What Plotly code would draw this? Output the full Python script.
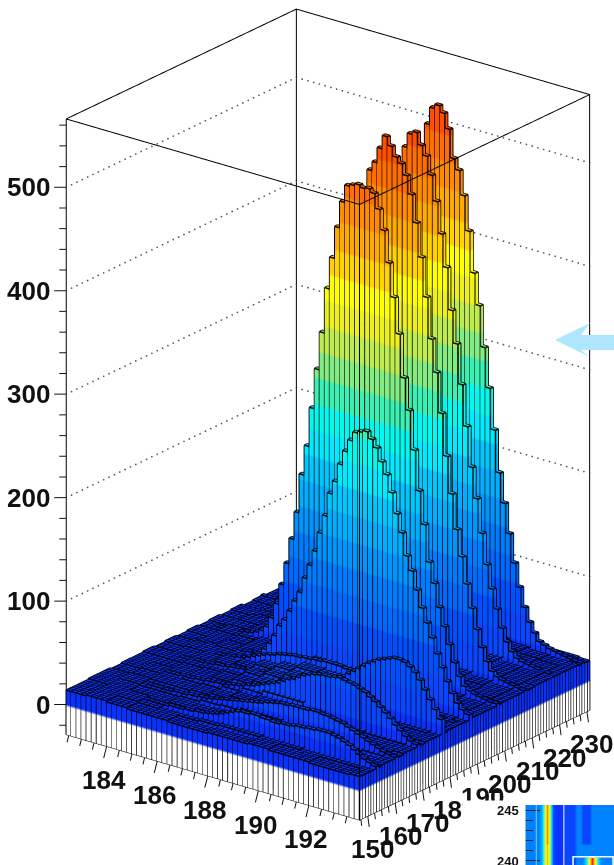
import numpy as np
import plotly.graph_objects as go

# ---- axes ----
x_lo, x_hi = 182.4, 194.0
y_lo, y_hi = 147.0, 231.0
z_lo, z_hi = -29.0, 566.0
n_cols, n_rows = 58, 84
z_major = [0, 100, 200, 300, 400, 500]
x_major = [184, 186, 188, 190, 192]
y_major = [150, 160, 170, 180, 190, 200, 210, 220, 230]

# ---- coarse background level: rows of 4 y-bins (front to back), cols of 4 x-bins ----
bg = [
 [14,15,14,13,13,12,12,13,13,14,13,13,12,12,13],
 [14,15,15,14,13,13,14,15,15,14,14,13,13,13,13],
 [15,15,14,14,15,15,16,18,18,16,15,14,14,13,14],
 [15,16,15,15,16,18,19,21,21,19,17,15,14,15,14],
 [14,15,16,16,17,19,22,24,25,22,19,16,15,15,15],
 [15,16,16,17,18,21,25,28,28,24,20,17,16,16,15],
 [15,15,16,17,19,23,27,31,31,26,21,18,17,16,16],
 [16,16,17,18,20,25,29,34,33,28,23,19,17,17,16],
 [15,16,17,19,22,27,31,36,35,30,25,20,18,17,17],
 [16,17,17,19,23,28,33,37,36,31,26,21,19,18,17],
 [15,16,18,20,24,29,34,38,37,33,27,22,20,18,18],
 [16,16,17,20,24,30,35,38,38,33,28,23,20,19,18],
 [15,17,18,20,25,30,35,39,38,34,28,24,21,19,18],
 [16,16,18,21,25,31,36,39,39,34,29,24,21,20,19],
 [15,17,18,21,25,31,36,40,39,34,29,25,22,20,19],
 [16,16,18,20,25,30,36,39,38,34,29,25,22,21,19],
 [14,15,17,20,24,30,35,38,38,33,29,25,22,21,20],
 [15,16,17,19,23,29,34,37,37,33,28,25,22,21,20],
 [14,15,16,18,22,27,32,35,35,31,27,24,22,21,20],
 [14,14,15,17,20,25,29,32,32,29,26,23,21,20,20],
 [13,14,15,16,18,22,26,28,28,26,24,22,20,20,19],
]

# ---- rows that stand out of the background: y-bin index and heights per x-bin ----
ridge_rows = [6, 13, 21, 30, 36, 40, 50, 60, 71, 81]
ridge_I = [14,14,14,14,14,14,14,14,14,14,15,15,15,15,15,15,15,16,16,16,17,17,18,18,19,20,21,23,25,27,29,30,30,31,31,30,30,29,29,30,30,31,32,32,33,33,34,34,34,33,32,30,28,25,22,19,17,15]
ridge_H = [14,14,14,15,15,15,15,15,15,16,16,16,16,16,17,17,17,18,18,19,19,20,21,22,23,24,25,26,27,28,29,30,32,33,34,35,35,36,36,36,36,37,37,36,36,35,34,33,31,29,27,25,23,21,19,17,16,15]
ridge_G = [15,15,15,15,16,16,16,16,17,17,17,18,18,18,19,19,20,20,21,21,22,23,24,25,27,28,30,32,34,36,38,41,44,46,49,52,54,56,57,58,58,59,60,59,58,57,55,53,50,47,43,39,35,30,26,22,19,17]
ridge_F = [15,15,16,16,16,16,17,17,17,18,18,19,19,20,20,21,22,22,23,24,25,25,26,27,27,28,28,29,29,30,30,31,32,33,34,36,38,41,44,48,52,56,60,64,67,70,72,74,76,76,75,72,68,62,54,46,38,30]
ridge_J = [15,15,15,16,16,16,16,17,17,17,18,18,19,20,21,22,24,26,28,30,32,33,35,36,37,38,38,39,39,40,40,41,41,41,41,40,40,39,38,37,36,35,34,32,30,29,27,26,24,23,22,21,20,20,19,18,18,17]
ridge_A = [15,15,15,16,16,16,17,17,17,18,18,18,19,20,21,22,24,28,35,44,55,62,72,83,93,108,122,137,156,174,197,210,228,242,254,263,265,267,261,254,242,231,215,196,179,158,145,128,112,99,86,72,60,48,38,30,25,22]
ridge_B = [15,15,16,16,16,17,17,18,19,20,22,25,30,40,55,75,97,122,149,187,216,254,293,330,374,405,436,462,479,481,483,481,482,479,465,446,416,384,350,309,279,242,204,173,138,119,97,80,64,48,36,28,25,23,22,21,20,20]
ridge_C = [15,15,16,16,16,17,17,18,19,20,22,24,28,36,48,66,90,118,150,185,225,265,310,355,395,430,460,480,489,504,517,509,500,495,485,468,442,410,373,334,303,265,225,190,157,132,107,85,66,50,38,30,26,24,23,22,21,20]
ridge_D = [16,16,16,17,17,18,18,19,20,21,22,23,25,30,40,55,75,100,130,165,200,240,285,330,370,410,445,470,490,504,507,496,487,470,446,416,385,345,314,276,237,199,170,138,109,87,69,52,40,32,27,25,24,23,22,21,21,20]
ridge_E = [16,16,16,16,17,17,18,18,19,20,21,22,26,33,45,62,85,115,150,185,225,270,315,360,400,440,470,498,515,519,513,499,472,462,439,406,367,337,298,260,221,181,153,125,98,76,58,45,36,29,27,25,24,23,22,21,20,20]
ridges = [ridge_I, ridge_H, ridge_G, ridge_F, ridge_J, ridge_A, ridge_B, ridge_C, ridge_D, ridge_E]

# ---- colour bands (26 counts each, from 0 upward) ----
band_step = 26
band_colors = ["#0a32ff","#0a46ff","#0050ff","#0069ff","#007dff","#0096ff","#00afff","#00c8ff",
               "#00ebff","#00faf0","#3cf0b4","#82eb82","#beeb50","#ebf01e","#ffff00","#ffd200",
               "#ffaa00","#ff8c00","#ff6e00","#ff5000","#ff3c00","#ff1e00"]

# inset heat map
inset_x = list(range(30))
inset_top = [3,3,3,3,3,4,8,13,8,2,1,1,1,2,2,2,2,3,3,2,2,2,3,3,3,3,3,3,3,3]
inset_bot = [3,3,3,3,3,4,8,12,8,2,1,1,1,2,2,2,2,3,3,3,3,3,3,3,3,3,3,3,3,3]
inset_hot = [3,3,3,3,3,4,8,12,8,2,1,1,1,2,2,2,2,3,3,3,6,10,15,10,6,3,3,3,3,3]
inset_y = [239.6, 240.3, 240.5, 241.6, 241.8, 245.5]
inset_z = [inset_hot, inset_hot, inset_bot, inset_bot, inset_top, inset_top]

# ---- build the height table ----
H = np.zeros((n_rows, n_cols))
for v in range(n_rows):
    for c in range(n_cols):
        H[v, c] = bg[v // 4][c // 4]
for v, row in zip(ridge_rows, ridges):
    H[v] = np.maximum(H[v], row)

xe = np.linspace(x_lo, x_hi, n_cols + 1)
ye = np.linspace(y_lo, y_hi, n_rows + 1)

vx, vy, vz, vi, fi, fj, fk = [], [], [], [], [], [], []
lx, ly, lz = [], [], []
bx, by, bz = [], [], []
nv = 0
for v in range(n_rows):
    for c in range(n_cols):
        h = H[v, c]
        x0, x1, y0, y1 = xe[c], xe[c + 1], ye[v], ye[v + 1]
        quads = [[(x0, y0, z_lo), (x1, y0, z_lo), (x1, y0, h), (x0, y0, h)],
                 [(x1, y0, z_lo), (x1, y1, z_lo), (x1, y1, h), (x1, y0, h)],
                 [(x0, y0, h), (x1, y0, h), (x1, y1, h), (x0, y1, h)]]
        for q in quads:
            for p in q:
                vx.append(p[0]); vy.append(p[1]); vz.append(p[2]); vi.append(p[2])
            fi += [nv, nv]; fj += [nv + 1, nv + 2]; fk += [nv + 2, nv + 3]
            nv += 4
        bx += [x0, x1, x1, x0, x0, np.nan]
        by += [y0, y0, y1, y1, y0, np.nan]
        bz += [h, h, h, h, h, np.nan]
        lx += [x0, x0, np.nan, x1, x1, np.nan, x1, x1, np.nan]
        ly += [y0, y0, np.nan, y0, y0, np.nan, y1, y1, np.nan]
        lz += [z_lo, h, np.nan, z_lo, h, np.nan, z_lo, h, np.nan]

c_span = 570 - z_lo
scale = [[0, "#ffffff"], [(0 - z_lo) / c_span, "#ffffff"]]
for i, col in enumerate(band_colors):
    a = (i * band_step - z_lo) / c_span
    b = min(1, ((i + 1) * band_step - z_lo) / c_span)
    scale += [[a, col], [b, col]]
if scale[-1][0] < 1:
    scale.append([1, band_colors[-1]])

fig = go.Figure()
fig.add_trace(go.Heatmap(x=inset_x, y=inset_y, z=inset_z, xaxis="x2", yaxis="y2", showscale=False,
                         zmin=0, zmax=15, zsmooth="best", hoverinfo="skip",
                         colorscale=[[0, "#0a1eff"], [0.133, "#0a46ff"], [0.2, "#0082ff"], [0.4, "#00e6ff"],
                                     [0.55, "#a0f080"], [0.7, "#ffff00"], [0.87, "#ff8000"], [1, "#ff1e00"]]))
fig.add_trace(go.Mesh3d(x=vx, y=vy, z=vz, i=fi, j=fj, k=fk, intensity=vi, intensitymode="vertex",
                        cmin=z_lo, cmax=570, colorscale=scale, showscale=False, hoverinfo="skip",
                        flatshading=True,
                        lighting=dict(ambient=1.0, diffuse=0.0, specular=0, roughness=1, fresnel=0)))
fig.add_trace(go.Scatter3d(x=lx, y=ly, z=lz, mode="lines", line=dict(color="#000000", width=3),
                           hoverinfo="skip", connectgaps=False, showlegend=False))
fig.add_trace(go.Scatter3d(x=bx, y=by, z=bz, mode="lines", line=dict(color="#000000", width=3),
                           hoverinfo="skip", connectgaps=False, showlegend=False))

# frame
fx = [x_lo, x_hi, x_hi, x_lo, x_lo, np.nan, x_lo, x_lo, np.nan, x_hi, x_hi, np.nan, x_hi, x_hi, np.nan, x_lo, x_lo, np.nan, x_lo, x_hi, x_hi]
fy = [y_lo, y_lo, y_hi, y_hi, y_lo, np.nan, y_lo, y_lo, np.nan, y_lo, y_lo, np.nan, y_hi, y_hi, np.nan, y_hi, y_hi, np.nan, y_lo, y_lo, y_hi]
fz = [z_hi, z_hi, z_hi, z_hi, z_hi, np.nan, z_lo, z_hi, np.nan, z_lo, z_hi, np.nan, z_lo, z_hi, np.nan, z_lo, z_hi, np.nan, z_lo, z_lo, z_lo]
fig.add_trace(go.Scatter3d(x=fx, y=fy, z=fz, mode="lines", line=dict(color="#000000", width=2),
                           hoverinfo="skip", showlegend=False))

# dotted grid on the back walls
gx, gy, gz = [], [], []
for z in z_major[1:]:
    a = np.linspace(y_lo, y_hi, 44)
    b = np.linspace(x_lo, x_hi, 52)
    gx += [x_lo] * len(a) + list(b)
    gy += list(a) + [y_hi] * len(b)
    gz += [z] * (len(a) + len(b))
fig.add_trace(go.Scatter3d(x=gx, y=gy, z=gz, mode="markers", marker=dict(color="#555555", size=1.0, line=dict(width=0)),
                           hoverinfo="skip", showlegend=False))

# camera geometry
theta = np.radians(38.0)
elev = np.radians(21.9)
px_x, px_y, px_z = 371.8, 373.4, 662.7
ux, uy, uz = (x_hi - x_lo) / px_x, (y_hi - y_lo) / px_y, (z_hi - z_lo) / px_z

# tick marks
tx, ty, tz = [], [], []
for z in np.arange(-20, 561, 20):
    L = 12 if z % 100 == 0 else 7
    tx += [x_lo, x_lo - np.cos(theta) * L * ux, np.nan]
    ty += [y_lo, y_lo - np.sin(theta) * L * uy, np.nan]
    tz += [z, z, np.nan]
for x in np.arange(182.5, 194, 0.5):
    big = x % 2 == 0
    tx += [x, x, np.nan]; ty += [y_lo, y_lo - (1.1 if big else 0.6), np.nan]; tz += [z_lo, z_lo - (10 if big else 6), np.nan]
for y in np.arange(147.5, 231, 2.5):
    big = y % 10 == 0
    tx += [x_hi, x_hi + (0.06 if big else 0.03), np.nan]; ty += [y, y, np.nan]; tz += [z_lo, z_lo - (10 if big else 6), np.nan]
fig.add_trace(go.Scatter3d(x=tx, y=ty, z=tz, mode="lines", line=dict(color="#111111", width=2),
                           hoverinfo="skip", showlegend=False))

font = dict(family="Liberation Sans", size=26, color="#111111")
ann = []
for z in z_major:
    ann.append(dict(x=x_lo, y=y_lo, z=z, text="<b>%d</b>" % z, showarrow=False, font=font,
                    xanchor="right", xshift=-14))
for x in x_major:
    ann.append(dict(x=x, y=y_lo, z=z_lo, text="<b>%d</b>" % x, showarrow=False, font=font, xshift=-3, yshift=-34))
for y in y_major:
    ann.append(dict(x=x_hi, y=y, z=z_lo, text="<b>%d</b>" % y, showarrow=False, font=font, xshift=5, yshift=-33))
ann.append(dict(x=x_hi, y=y_lo, z=z_lo, text=".", font=dict(color="#ffffff", size=4), showarrow=False,
                xanchor="left", yanchor="top", xshift=102, yshift=20, width=62, height=66,
                bgcolor="#ffffff", borderpad=0))
small = dict(family="Liberation Sans", size=13, color="#111111")
ann.append(dict(x=x_hi, y=y_lo, z=z_lo, text="<b>245</b>", font=small, showarrow=False,
                xanchor="right", xshift=161, yshift=10))
ann.append(dict(x=x_hi, y=y_lo, z=z_lo, text="<b>240</b>", font=small, showarrow=False,
                xanchor="right", xshift=161, yshift=-41))

xr, yr, zr = [181.0, 196.0], [140.0, 238.0], [-60.0, 600.0]
R = 2.0
S = 432.0
cx = -0.0525; cy = -0.0400; cz = -0.0434
fig.update_layout(
    width=614, height=865, margin=dict(l=0, r=0, t=0, b=0), paper_bgcolor="#ffffff", showlegend=False,
    scene=dict(
        domain=dict(x=[0, 1], y=[0, 1]),
        bgcolor="rgba(0,0,0,0)",
        xaxis=dict(visible=False, range=xr),
        yaxis=dict(visible=False, range=yr),
        zaxis=dict(visible=False, range=zr),
        aspectmode="manual",
        aspectratio=dict(x=(xr[1] - xr[0]) / ux / S, y=(yr[1] - yr[0]) / uy / S, z=(zr[1] - zr[0]) / uz / S),
        camera=dict(projection=dict(type="orthographic"), up=dict(x=0, y=0, z=1),
                    center=dict(x=cx, y=cy, z=cz),
                    eye=dict(x=cx + R * np.sin(theta) * np.cos(elev), y=cy - R * np.cos(theta) * np.cos(elev), z=cz + R * np.sin(elev))),
        annotations=ann,
    ),
    xaxis2=dict(domain=[525 / 614, 1], range=[-0.5, 29.5], visible=False, anchor="y2"),
    yaxis2=dict(domain=[0, 60 / 865], range=[239.6, 245.5], anchor="x2", tickvals=[240, 245], ticks="inside",
                ticklen=15, tickcolor="#222222", showgrid=False, showline=False, zeroline=False, showticklabels=False,
                minor=dict(dtick=1, ticks="inside", ticklen=8, tickcolor="#222222")),
    shapes=[
        dict(type="line", xref="x2", yref="y2", x0=3.3, x1=3.3, y0=239.6, y1=245.5, line=dict(color="#7fc4ff", width=1)),
        dict(type="line", xref="x2", yref="y2", x0=12.6, x1=12.6, y0=239.6, y1=245.5, line=dict(color="#ffffff", width=1)),
        dict(type="rect", xref="x2", yref="y2", x0=15.7, x1=29.2, y0=239.0, y1=240.4, line=dict(color="#ffffff", width=1.5)),
        dict(type="path", xref="paper", yref="paper", fillcolor="#aee6ff", line=dict(width=0),
             path="M %f %f L %f %f L %f %f L %f %f L 1 %f L 1 %f L %f %f L %f %f Z" % (
                 555/614, 1-340/865, 590/614, 1-323/865, 581/614, 1-335/865, 590/614, 1-335/865,
                 1-335/865, 1-350/865, 590/614, 1-350/865, 581/614, 1-350/865) + " M %f %f L %f %f L %f %f Z" % (
                 581/614, 1-350/865, 590/614, 1-357/865, 555/614, 1-340/865)),
    ],
)
fig.write_html("out.html", config={"displayModeBar": False},
               post_script="document.body.style.margin='0';document.body.style.overflow='hidden';")
